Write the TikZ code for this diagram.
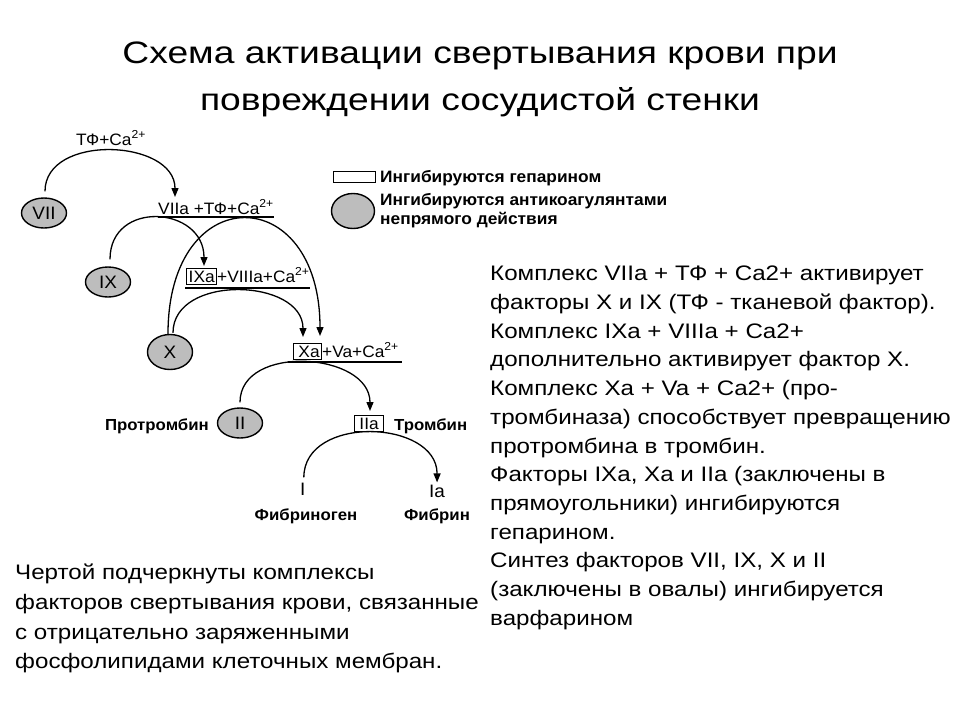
\documentclass[tikz,border=0pt]{standalone}
\usepackage{fontspec}
\setmainfont{Liberation Sans}[FakeStretch=1.15]
\newfontfamily\titlefont{Liberation Sans}[FakeStretch=1.2]
\newfontfamily\diagfont{Liberation Sans}[FakeStretch=1.05]
\usetikzlibrary{shapes.geometric,arrows.meta,calc}

\setlength{\fboxsep}{1.5pt}
\setlength{\fboxrule}{1pt}

\tikzset{
  factor/.style={ellipse,draw,line width=1.4pt,fill=gray!52,minimum width=45pt,minimum height=30pt,inner sep=0pt,font=\diagfont\fontsize{18}{18}\selectfont},
  cplx/.style={inner sep=0pt,font=\diagfont\fontsize{16.5}{16.5}\selectfont},
  lbl/.style={inner sep=0pt,font=\diagfont\fontsize{16}{16}\selectfont\bfseries},
  arr/.style={-{Triangle[width=7pt,length=9pt]},line width=1.3pt},
  uline/.style={line width=1.5pt},
  para/.style={inner sep=0pt,align=left,anchor=north west}
}

\begin{document}
\begin{tikzpicture}[x=1pt,y=-1pt]
  \useasboundingbox (0,0) rectangle (960,720);

  % title
  \node[align=center,inner sep=0pt,anchor=north,font=\titlefont\fontsize{31}{47}\selectfont] (title) at (480,42)
    {Схема активации свертывания крови при\\повреждении сосудистой стенки};

  % factors (ovals)
  \node[factor] (vii) at (44,213) {VII};
  \node[factor] (ix) at (108,282) {IX};
  \node[factor,minimum height=35pt] (x) at (170,352) {X};
  \node[factor] (ii) at (240,423) {II};

  % complexes
  \node[cplx,anchor=base west] (c7a) at (158,214) {VIIa +ТФ+Ca\textsuperscript{2+}};
  \node[cplx,anchor=base west] (c9a) at (186,282) {\fbox{IXa}+VIIIa+Ca\textsuperscript{2+}};
  \node[cplx,anchor=base west] (c10a) at (293,357) {\fbox{\,Xa}+Va+Ca\textsuperscript{2+}};
  \node[cplx,anchor=base west] (c2a) at (354,429) {\fbox{\,IIa\,}};
  \node[cplx,anchor=base west,font=\diagfont\fontsize{18}{18}\selectfont] (fI) at (300,495) {I};
  \node[cplx,anchor=base west,font=\diagfont\fontsize{18}{18}\selectfont] (fIa) at (429,497) {Ia};
  \node[cplx,anchor=base] (tfca) at (111,145) {ТФ+Ca\textsuperscript{2+}};

  \node[lbl,anchor=base east] (prot) at (209,430) {Протромбин};
  \node[lbl,anchor=base west] (thr) at (394,430) {Тромбин};
  \node[lbl,anchor=base] (fbg) at (306,520) {Фибриноген};
  \node[lbl,anchor=base] (fbn) at (437,520) {Фибрин};

  % underlines
  \draw[uline] ($(c7a.base west)+(0,3)$) -- ($(c7a.base east)+(0,3)$);
  \draw[uline] ($(c9a.base west)+(-1,6)$) -- ($(c9a.base east)+(0,6)$);
  \draw[uline] ($(c10a.base west)+(-5,5)$) -- ($(c10a.base east)+(3,5)$);

  % arcs
  \draw[arr] ($(vii.north)+(1,-6)$) .. controls +(0,-58) and +(0,-58) .. ($(c7a.base west)+(17,-17)$);
  \draw[arr] ($(ix.north)+(2,-7)$) .. controls +(0,-60) and +(0,-60) .. ($(c9a.base west)+(18,-16)$);
  \draw[arr] ($(x.north)+(-2,0)$) .. controls +(0,-155) and +(0,-155) .. ($(c10a.base west)+(27,-21)$);
  \draw[arr] ($(x.north)+(3,-1)$) .. controls +(0,-59) and +(0,-59) .. ($(c10a.base west)+(10,-20)$);
  \draw[arr] ($(ii.north)+(0,-5)$) .. controls +(0,-59) and +(0,-59) .. ($(c2a.base west)+(16,-18)$);
  \draw[arr] ($(fI.north)+(1,-5)$) .. controls +(0,-63) and +(0,-63) .. ($(fIa.north)+(0,-2)$);

  % legend
  \node[draw,line width=0.9pt,minimum width=42pt,minimum height=11pt,inner sep=0pt] (lgbox) at (354,177) {};
  \node[lbl,anchor=west,font=\diagfont\fontsize{16.5}{16.5}\selectfont\bfseries] (lgtxt1) at (380,178) {Ингибируются гепарином};
  \node[factor,minimum width=43pt,minimum height=35pt] (lgoval) at (353,211) {};
  \node[lbl,align=left,anchor=west,font=\diagfont\fontsize{16.5}{19}\selectfont\bfseries] (lgtxt2) at (380,211)
    {Ингибируются антикоагулянтами\\непрямого действия};

  % explanations
  \node[para,font=\fontsize{21}{28.7}\selectfont] (notes) at (490,266)
    {Комплекс VIIa + ТФ + Ca2+ активирует\\
     факторы X и IX (ТФ - тканевой фактор).\\
     Комплекс IXa + VIIIa + Ca2+\\
     дополнительно активирует фактор X.\\
     Комплекс Xa + Va + Ca2+ (про-\\
     тромбиназа) способствует превращению\\
     протромбина в тромбин.\\
     Факторы IXa, Xa и IIa (заключены в\\
     прямоугольники) ингибируются\\
     гепарином.\\
     Синтез факторов VII, IX, X и II\\
     (заключены в овалы) ингибируется\\
     варфарином};
  \node[para,font=\fontsize{21}{29.7}\selectfont] (remark) at (15,564)
    {Чертой подчеркнуты комплексы\\
     факторов свертывания крови, связанные\\
     с отрицательно заряженными\\
     фосфолипидами клеточных мембран.};
\end{tikzpicture}
\end{document}
